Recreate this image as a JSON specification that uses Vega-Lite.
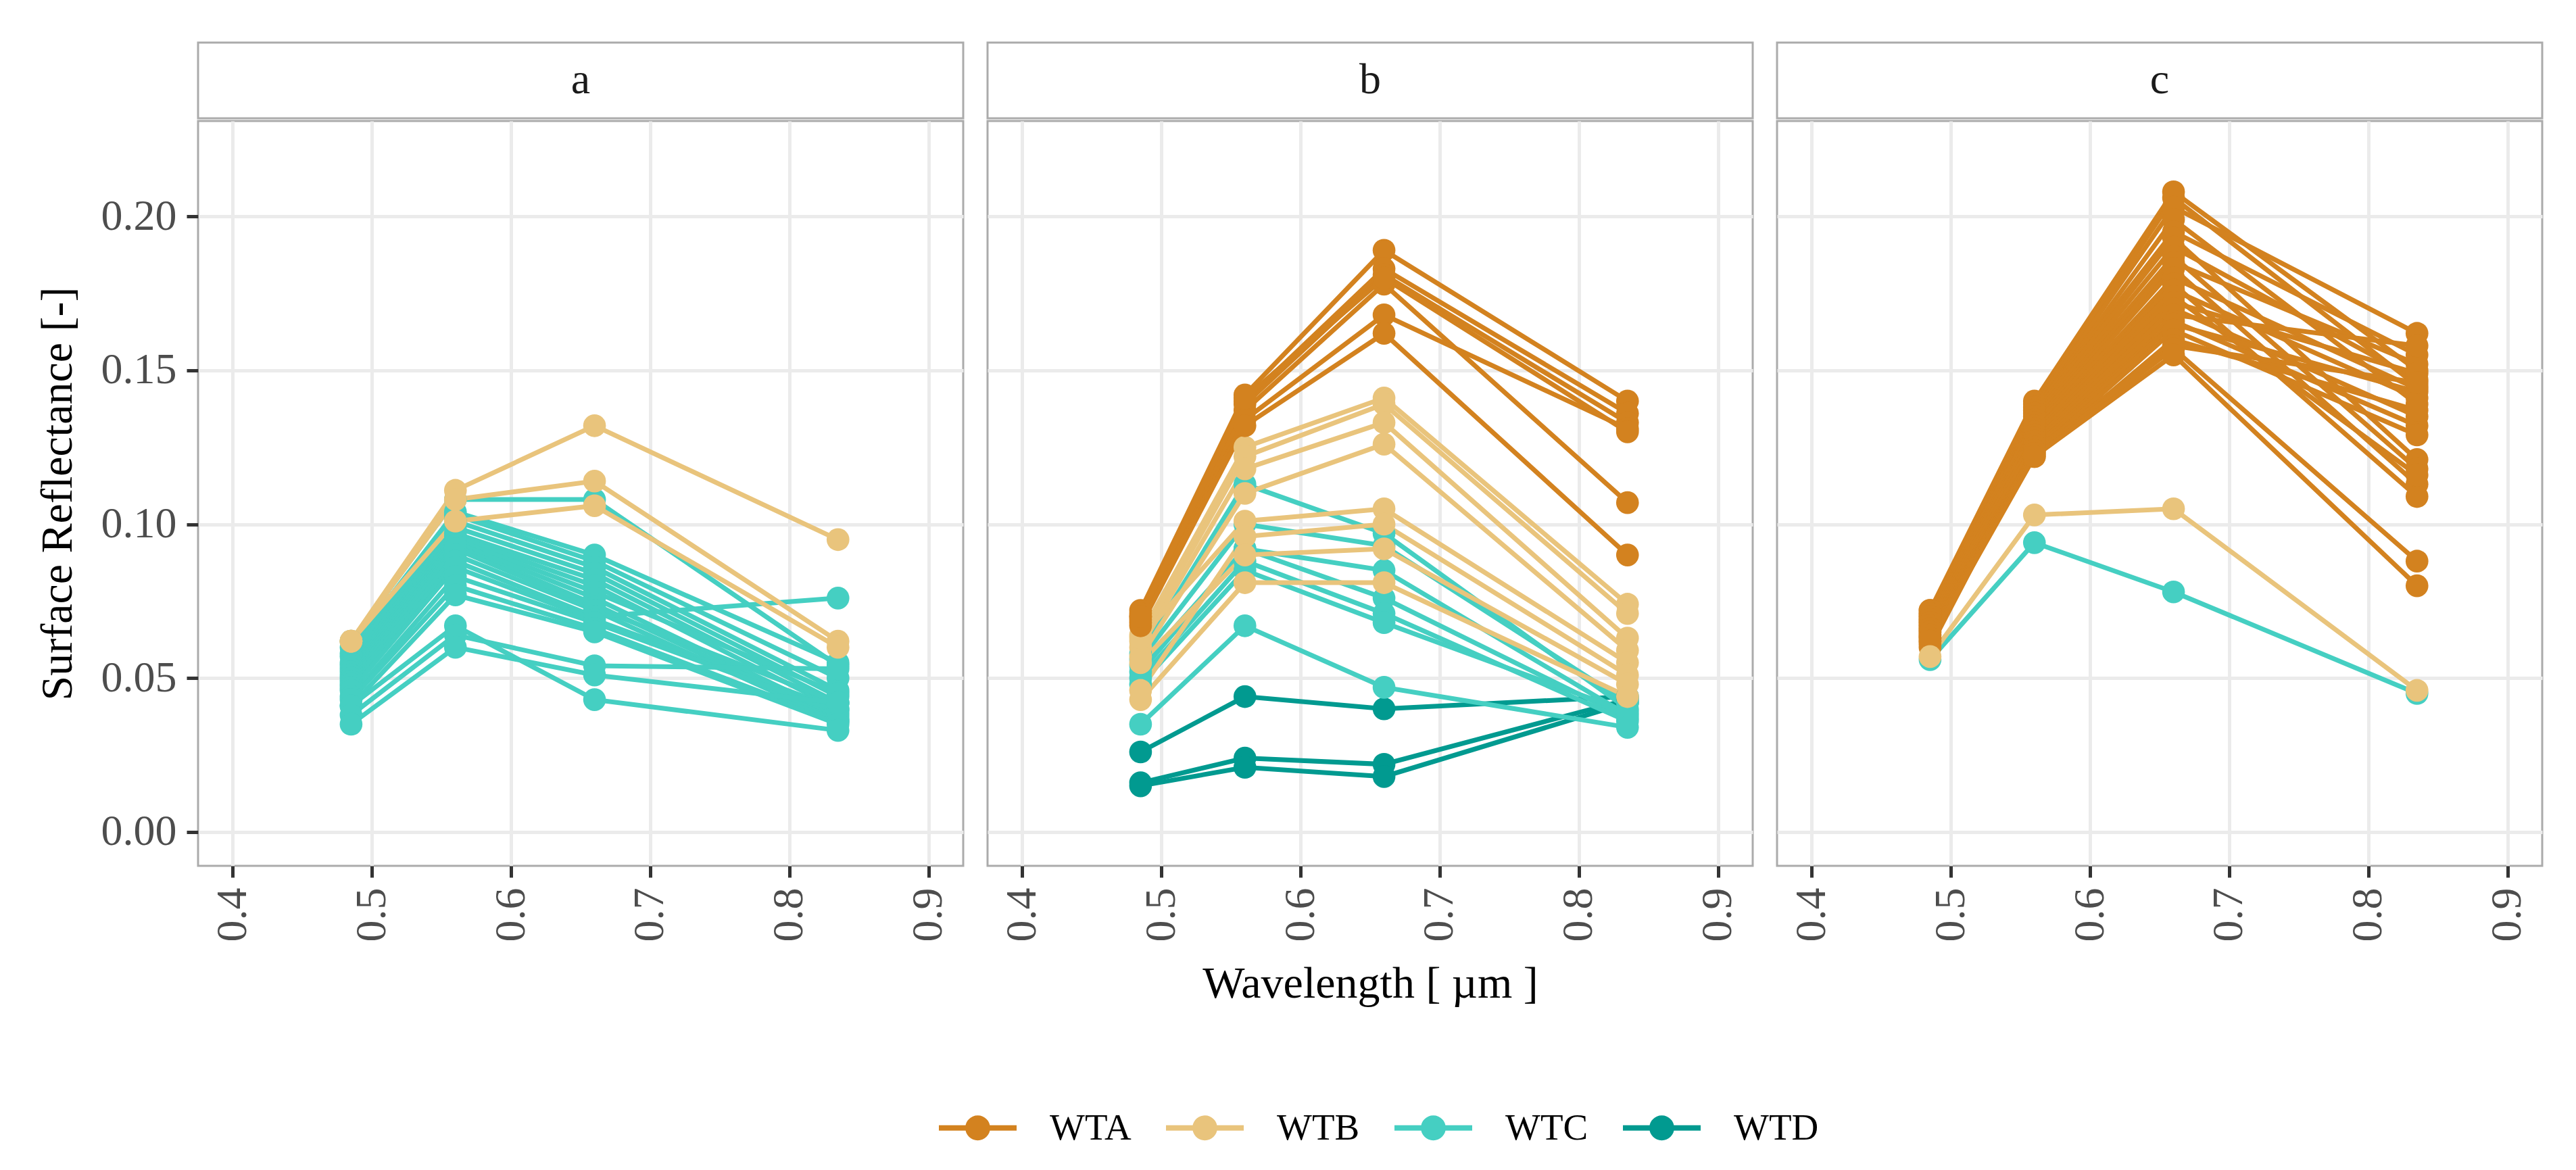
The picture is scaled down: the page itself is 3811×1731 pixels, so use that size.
{
  "$schema": "https://vega.github.io/schema/vega-lite/v6.json",
  "background": "white",
  "padding": {"left": 50, "top": 61, "right": 46, "bottom": 10},
  "datasets": {
    "strips": [{"panel": "a"}, {"panel": "b"}, {"panel": "c"}],
    "obs": [
      {"panel":"a","id":"a04","type":"WTC","wl":0.485,"refl":0.062},{"panel":"a","id":"a04","type":"WTC","wl":0.56,"refl":0.108},{"panel":"a","id":"a04","type":"WTC","wl":0.66,"refl":0.108},{"panel":"a","id":"a04","type":"WTC","wl":0.835,"refl":0.054},
      {"panel":"a","id":"a05","type":"WTC","wl":0.485,"refl":0.060},{"panel":"a","id":"a05","type":"WTC","wl":0.56,"refl":0.104},{"panel":"a","id":"a05","type":"WTC","wl":0.66,"refl":0.090},{"panel":"a","id":"a05","type":"WTC","wl":0.835,"refl":0.055},
      {"panel":"a","id":"a06","type":"WTC","wl":0.485,"refl":0.058},{"panel":"a","id":"a06","type":"WTC","wl":0.56,"refl":0.103},{"panel":"a","id":"a06","type":"WTC","wl":0.66,"refl":0.088},{"panel":"a","id":"a06","type":"WTC","wl":0.835,"refl":0.050},
      {"panel":"a","id":"a07","type":"WTC","wl":0.485,"refl":0.057},{"panel":"a","id":"a07","type":"WTC","wl":0.56,"refl":0.101},{"panel":"a","id":"a07","type":"WTC","wl":0.66,"refl":0.086},{"panel":"a","id":"a07","type":"WTC","wl":0.835,"refl":0.046},
      {"panel":"a","id":"a08","type":"WTC","wl":0.485,"refl":0.055},{"panel":"a","id":"a08","type":"WTC","wl":0.56,"refl":0.099},{"panel":"a","id":"a08","type":"WTC","wl":0.66,"refl":0.084},{"panel":"a","id":"a08","type":"WTC","wl":0.835,"refl":0.044},
      {"panel":"a","id":"a09","type":"WTC","wl":0.485,"refl":0.054},{"panel":"a","id":"a09","type":"WTC","wl":0.56,"refl":0.097},{"panel":"a","id":"a09","type":"WTC","wl":0.66,"refl":0.082},{"panel":"a","id":"a09","type":"WTC","wl":0.835,"refl":0.042},
      {"panel":"a","id":"a10","type":"WTC","wl":0.485,"refl":0.053},{"panel":"a","id":"a10","type":"WTC","wl":0.56,"refl":0.096},{"panel":"a","id":"a10","type":"WTC","wl":0.66,"refl":0.080},{"panel":"a","id":"a10","type":"WTC","wl":0.835,"refl":0.040},
      {"panel":"a","id":"a11","type":"WTC","wl":0.485,"refl":0.052},{"panel":"a","id":"a11","type":"WTC","wl":0.56,"refl":0.095},{"panel":"a","id":"a11","type":"WTC","wl":0.66,"refl":0.078},{"panel":"a","id":"a11","type":"WTC","wl":0.835,"refl":0.045},
      {"panel":"a","id":"a12","type":"WTC","wl":0.485,"refl":0.051},{"panel":"a","id":"a12","type":"WTC","wl":0.56,"refl":0.094},{"panel":"a","id":"a12","type":"WTC","wl":0.66,"refl":0.076},{"panel":"a","id":"a12","type":"WTC","wl":0.835,"refl":0.038},
      {"panel":"a","id":"a13","type":"WTC","wl":0.485,"refl":0.050},{"panel":"a","id":"a13","type":"WTC","wl":0.56,"refl":0.093},{"panel":"a","id":"a13","type":"WTC","wl":0.66,"refl":0.074},{"panel":"a","id":"a13","type":"WTC","wl":0.835,"refl":0.037},
      {"panel":"a","id":"a14","type":"WTC","wl":0.485,"refl":0.049},{"panel":"a","id":"a14","type":"WTC","wl":0.56,"refl":0.092},{"panel":"a","id":"a14","type":"WTC","wl":0.66,"refl":0.073},{"panel":"a","id":"a14","type":"WTC","wl":0.835,"refl":0.042},
      {"panel":"a","id":"a15","type":"WTC","wl":0.485,"refl":0.048},{"panel":"a","id":"a15","type":"WTC","wl":0.56,"refl":0.090},{"panel":"a","id":"a15","type":"WTC","wl":0.66,"refl":0.072},{"panel":"a","id":"a15","type":"WTC","wl":0.835,"refl":0.036},
      {"panel":"a","id":"a16","type":"WTC","wl":0.485,"refl":0.047},{"panel":"a","id":"a16","type":"WTC","wl":0.56,"refl":0.088},{"panel":"a","id":"a16","type":"WTC","wl":0.66,"refl":0.070},{"panel":"a","id":"a16","type":"WTC","wl":0.835,"refl":0.076},
      {"panel":"a","id":"a17","type":"WTC","wl":0.485,"refl":0.046},{"panel":"a","id":"a17","type":"WTC","wl":0.56,"refl":0.086},{"panel":"a","id":"a17","type":"WTC","wl":0.66,"refl":0.069},{"panel":"a","id":"a17","type":"WTC","wl":0.835,"refl":0.040},
      {"panel":"a","id":"a18","type":"WTC","wl":0.485,"refl":0.044},{"panel":"a","id":"a18","type":"WTC","wl":0.56,"refl":0.083},{"panel":"a","id":"a18","type":"WTC","wl":0.66,"refl":0.068},{"panel":"a","id":"a18","type":"WTC","wl":0.835,"refl":0.039},
      {"panel":"a","id":"a19","type":"WTC","wl":0.485,"refl":0.043},{"panel":"a","id":"a19","type":"WTC","wl":0.56,"refl":0.080},{"panel":"a","id":"a19","type":"WTC","wl":0.66,"refl":0.066},{"panel":"a","id":"a19","type":"WTC","wl":0.835,"refl":0.036},
      {"panel":"a","id":"a20","type":"WTC","wl":0.485,"refl":0.041},{"panel":"a","id":"a20","type":"WTC","wl":0.56,"refl":0.077},{"panel":"a","id":"a20","type":"WTC","wl":0.66,"refl":0.065},{"panel":"a","id":"a20","type":"WTC","wl":0.835,"refl":0.035},
      {"panel":"a","id":"a21","type":"WTC","wl":0.485,"refl":0.041},{"panel":"a","id":"a21","type":"WTC","wl":0.56,"refl":0.067},{"panel":"a","id":"a21","type":"WTC","wl":0.66,"refl":0.043},{"panel":"a","id":"a21","type":"WTC","wl":0.835,"refl":0.033},
      {"panel":"a","id":"a22","type":"WTC","wl":0.485,"refl":0.038},{"panel":"a","id":"a22","type":"WTC","wl":0.56,"refl":0.064},{"panel":"a","id":"a22","type":"WTC","wl":0.66,"refl":0.054},{"panel":"a","id":"a22","type":"WTC","wl":0.835,"refl":0.053},
      {"panel":"a","id":"a23","type":"WTC","wl":0.485,"refl":0.035},{"panel":"a","id":"a23","type":"WTC","wl":0.56,"refl":0.060},{"panel":"a","id":"a23","type":"WTC","wl":0.66,"refl":0.051},{"panel":"a","id":"a23","type":"WTC","wl":0.835,"refl":0.042},
      {"panel":"a","id":"a01","type":"WTB","wl":0.485,"refl":0.062},{"panel":"a","id":"a01","type":"WTB","wl":0.56,"refl":0.111},{"panel":"a","id":"a01","type":"WTB","wl":0.66,"refl":0.132},{"panel":"a","id":"a01","type":"WTB","wl":0.835,"refl":0.095},
      {"panel":"a","id":"a02","type":"WTB","wl":0.485,"refl":0.062},{"panel":"a","id":"a02","type":"WTB","wl":0.56,"refl":0.108},{"panel":"a","id":"a02","type":"WTB","wl":0.66,"refl":0.114},{"panel":"a","id":"a02","type":"WTB","wl":0.835,"refl":0.062},
      {"panel":"a","id":"a03","type":"WTB","wl":0.485,"refl":0.062},{"panel":"a","id":"a03","type":"WTB","wl":0.56,"refl":0.101},{"panel":"a","id":"a03","type":"WTB","wl":0.66,"refl":0.106},{"panel":"a","id":"a03","type":"WTB","wl":0.835,"refl":0.060},

      {"panel":"b","id":"b01","type":"WTD","wl":0.485,"refl":0.026},{"panel":"b","id":"b01","type":"WTD","wl":0.56,"refl":0.044},{"panel":"b","id":"b01","type":"WTD","wl":0.66,"refl":0.040},{"panel":"b","id":"b01","type":"WTD","wl":0.835,"refl":0.044},
      {"panel":"b","id":"b02","type":"WTD","wl":0.485,"refl":0.016},{"panel":"b","id":"b02","type":"WTD","wl":0.56,"refl":0.024},{"panel":"b","id":"b02","type":"WTD","wl":0.66,"refl":0.022},{"panel":"b","id":"b02","type":"WTD","wl":0.835,"refl":0.043},
      {"panel":"b","id":"b03","type":"WTD","wl":0.485,"refl":0.015},{"panel":"b","id":"b03","type":"WTD","wl":0.56,"refl":0.021},{"panel":"b","id":"b03","type":"WTD","wl":0.66,"refl":0.018},{"panel":"b","id":"b03","type":"WTD","wl":0.835,"refl":0.042},
      {"panel":"b","id":"b04","type":"WTC","wl":0.485,"refl":0.058},{"panel":"b","id":"b04","type":"WTC","wl":0.56,"refl":0.113},{"panel":"b","id":"b04","type":"WTC","wl":0.66,"refl":0.097},{"panel":"b","id":"b04","type":"WTC","wl":0.835,"refl":0.040},
      {"panel":"b","id":"b05","type":"WTC","wl":0.485,"refl":0.056},{"panel":"b","id":"b05","type":"WTC","wl":0.56,"refl":0.100},{"panel":"b","id":"b05","type":"WTC","wl":0.66,"refl":0.093},{"panel":"b","id":"b05","type":"WTC","wl":0.835,"refl":0.042},
      {"panel":"b","id":"b06","type":"WTC","wl":0.485,"refl":0.052},{"panel":"b","id":"b06","type":"WTC","wl":0.56,"refl":0.092},{"panel":"b","id":"b06","type":"WTC","wl":0.66,"refl":0.085},{"panel":"b","id":"b06","type":"WTC","wl":0.835,"refl":0.038},
      {"panel":"b","id":"b07","type":"WTC","wl":0.485,"refl":0.054},{"panel":"b","id":"b07","type":"WTC","wl":0.56,"refl":0.092},{"panel":"b","id":"b07","type":"WTC","wl":0.66,"refl":0.076},{"panel":"b","id":"b07","type":"WTC","wl":0.835,"refl":0.037},
      {"panel":"b","id":"b08","type":"WTC","wl":0.485,"refl":0.050},{"panel":"b","id":"b08","type":"WTC","wl":0.56,"refl":0.088},{"panel":"b","id":"b08","type":"WTC","wl":0.66,"refl":0.071},{"panel":"b","id":"b08","type":"WTC","wl":0.835,"refl":0.036},
      {"panel":"b","id":"b09","type":"WTC","wl":0.485,"refl":0.048},{"panel":"b","id":"b09","type":"WTC","wl":0.56,"refl":0.085},{"panel":"b","id":"b09","type":"WTC","wl":0.66,"refl":0.068},{"panel":"b","id":"b09","type":"WTC","wl":0.835,"refl":0.039},
      {"panel":"b","id":"b10","type":"WTC","wl":0.485,"refl":0.035},{"panel":"b","id":"b10","type":"WTC","wl":0.56,"refl":0.067},{"panel":"b","id":"b10","type":"WTC","wl":0.66,"refl":0.047},{"panel":"b","id":"b10","type":"WTC","wl":0.835,"refl":0.034},
      {"panel":"b","id":"b11","type":"WTB","wl":0.485,"refl":0.064},{"panel":"b","id":"b11","type":"WTB","wl":0.56,"refl":0.125},{"panel":"b","id":"b11","type":"WTB","wl":0.66,"refl":0.141},{"panel":"b","id":"b11","type":"WTB","wl":0.835,"refl":0.074},
      {"panel":"b","id":"b12","type":"WTB","wl":0.485,"refl":0.062},{"panel":"b","id":"b12","type":"WTB","wl":0.56,"refl":0.122},{"panel":"b","id":"b12","type":"WTB","wl":0.66,"refl":0.139},{"panel":"b","id":"b12","type":"WTB","wl":0.835,"refl":0.071},
      {"panel":"b","id":"b13","type":"WTB","wl":0.485,"refl":0.060},{"panel":"b","id":"b13","type":"WTB","wl":0.56,"refl":0.118},{"panel":"b","id":"b13","type":"WTB","wl":0.66,"refl":0.133},{"panel":"b","id":"b13","type":"WTB","wl":0.835,"refl":0.063},
      {"panel":"b","id":"b14","type":"WTB","wl":0.485,"refl":0.057},{"panel":"b","id":"b14","type":"WTB","wl":0.56,"refl":0.110},{"panel":"b","id":"b14","type":"WTB","wl":0.66,"refl":0.126},{"panel":"b","id":"b14","type":"WTB","wl":0.835,"refl":0.059},
      {"panel":"b","id":"b15","type":"WTB","wl":0.485,"refl":0.063},{"panel":"b","id":"b15","type":"WTB","wl":0.56,"refl":0.101},{"panel":"b","id":"b15","type":"WTB","wl":0.66,"refl":0.105},{"panel":"b","id":"b15","type":"WTB","wl":0.835,"refl":0.055},
      {"panel":"b","id":"b16","type":"WTB","wl":0.485,"refl":0.046},{"panel":"b","id":"b16","type":"WTB","wl":0.56,"refl":0.096},{"panel":"b","id":"b16","type":"WTB","wl":0.66,"refl":0.100},{"panel":"b","id":"b16","type":"WTB","wl":0.835,"refl":0.051},
      {"panel":"b","id":"b17","type":"WTB","wl":0.485,"refl":0.055},{"panel":"b","id":"b17","type":"WTB","wl":0.56,"refl":0.090},{"panel":"b","id":"b17","type":"WTB","wl":0.66,"refl":0.092},{"panel":"b","id":"b17","type":"WTB","wl":0.835,"refl":0.048},
      {"panel":"b","id":"b18","type":"WTB","wl":0.485,"refl":0.043},{"panel":"b","id":"b18","type":"WTB","wl":0.56,"refl":0.081},{"panel":"b","id":"b18","type":"WTB","wl":0.66,"refl":0.081},{"panel":"b","id":"b18","type":"WTB","wl":0.835,"refl":0.044},
      {"panel":"b","id":"b19","type":"WTA","wl":0.485,"refl":0.072},{"panel":"b","id":"b19","type":"WTA","wl":0.56,"refl":0.142},{"panel":"b","id":"b19","type":"WTA","wl":0.66,"refl":0.189},{"panel":"b","id":"b19","type":"WTA","wl":0.835,"refl":0.140},
      {"panel":"b","id":"b20","type":"WTA","wl":0.485,"refl":0.071},{"panel":"b","id":"b20","type":"WTA","wl":0.56,"refl":0.140},{"panel":"b","id":"b20","type":"WTA","wl":0.66,"refl":0.183},{"panel":"b","id":"b20","type":"WTA","wl":0.835,"refl":0.136},
      {"panel":"b","id":"b21","type":"WTA","wl":0.485,"refl":0.070},{"panel":"b","id":"b21","type":"WTA","wl":0.56,"refl":0.139},{"panel":"b","id":"b21","type":"WTA","wl":0.66,"refl":0.181},{"panel":"b","id":"b21","type":"WTA","wl":0.835,"refl":0.133},
      {"panel":"b","id":"b22","type":"WTA","wl":0.485,"refl":0.069},{"panel":"b","id":"b22","type":"WTA","wl":0.56,"refl":0.137},{"panel":"b","id":"b22","type":"WTA","wl":0.66,"refl":0.178},{"panel":"b","id":"b22","type":"WTA","wl":0.835,"refl":0.107},
      {"panel":"b","id":"b23","type":"WTA","wl":0.485,"refl":0.068},{"panel":"b","id":"b23","type":"WTA","wl":0.56,"refl":0.134},{"panel":"b","id":"b23","type":"WTA","wl":0.66,"refl":0.168},{"panel":"b","id":"b23","type":"WTA","wl":0.835,"refl":0.131},
      {"panel":"b","id":"b24","type":"WTA","wl":0.485,"refl":0.067},{"panel":"b","id":"b24","type":"WTA","wl":0.56,"refl":0.132},{"panel":"b","id":"b24","type":"WTA","wl":0.66,"refl":0.162},{"panel":"b","id":"b24","type":"WTA","wl":0.835,"refl":0.090},
      {"panel":"b","id":"b25","type":"WTA","wl":0.485,"refl":0.070},{"panel":"b","id":"b25","type":"WTA","wl":0.56,"refl":0.141},{"panel":"b","id":"b25","type":"WTA","wl":0.66,"refl":0.180},{"panel":"b","id":"b25","type":"WTA","wl":0.835,"refl":0.130},

      {"panel":"c","id":"c01","type":"WTA","wl":0.485,"refl":0.072},{"panel":"c","id":"c01","type":"WTA","wl":0.56,"refl":0.140},{"panel":"c","id":"c01","type":"WTA","wl":0.66,"refl":0.208},{"panel":"c","id":"c01","type":"WTA","wl":0.835,"refl":0.150},
      {"panel":"c","id":"c02","type":"WTA","wl":0.485,"refl":0.071},{"panel":"c","id":"c02","type":"WTA","wl":0.56,"refl":0.139},{"panel":"c","id":"c02","type":"WTA","wl":0.66,"refl":0.206},{"panel":"c","id":"c02","type":"WTA","wl":0.835,"refl":0.145},
      {"panel":"c","id":"c03","type":"WTA","wl":0.485,"refl":0.070},{"panel":"c","id":"c03","type":"WTA","wl":0.56,"refl":0.138},{"panel":"c","id":"c03","type":"WTA","wl":0.66,"refl":0.203},{"panel":"c","id":"c03","type":"WTA","wl":0.835,"refl":0.162},
      {"panel":"c","id":"c04","type":"WTA","wl":0.485,"refl":0.069},{"panel":"c","id":"c04","type":"WTA","wl":0.56,"refl":0.137},{"panel":"c","id":"c04","type":"WTA","wl":0.66,"refl":0.199},{"panel":"c","id":"c04","type":"WTA","wl":0.835,"refl":0.139},
      {"panel":"c","id":"c05","type":"WTA","wl":0.485,"refl":0.068},{"panel":"c","id":"c05","type":"WTA","wl":0.56,"refl":0.137},{"panel":"c","id":"c05","type":"WTA","wl":0.66,"refl":0.195},{"panel":"c","id":"c05","type":"WTA","wl":0.835,"refl":0.155},
      {"panel":"c","id":"c06","type":"WTA","wl":0.485,"refl":0.067},{"panel":"c","id":"c06","type":"WTA","wl":0.56,"refl":0.136},{"panel":"c","id":"c06","type":"WTA","wl":0.66,"refl":0.193},{"panel":"c","id":"c06","type":"WTA","wl":0.835,"refl":0.121},
      {"panel":"c","id":"c07","type":"WTA","wl":0.485,"refl":0.066},{"panel":"c","id":"c07","type":"WTA","wl":0.56,"refl":0.135},{"panel":"c","id":"c07","type":"WTA","wl":0.66,"refl":0.190},{"panel":"c","id":"c07","type":"WTA","wl":0.835,"refl":0.147},
      {"panel":"c","id":"c08","type":"WTA","wl":0.485,"refl":0.065},{"panel":"c","id":"c08","type":"WTA","wl":0.56,"refl":0.134},{"panel":"c","id":"c08","type":"WTA","wl":0.66,"refl":0.187},{"panel":"c","id":"c08","type":"WTA","wl":0.835,"refl":0.118},
      {"panel":"c","id":"c09","type":"WTA","wl":0.485,"refl":0.072},{"panel":"c","id":"c09","type":"WTA","wl":0.56,"refl":0.133},{"panel":"c","id":"c09","type":"WTA","wl":0.66,"refl":0.185},{"panel":"c","id":"c09","type":"WTA","wl":0.835,"refl":0.152},
      {"panel":"c","id":"c10","type":"WTA","wl":0.485,"refl":0.064},{"panel":"c","id":"c10","type":"WTA","wl":0.56,"refl":0.132},{"panel":"c","id":"c10","type":"WTA","wl":0.66,"refl":0.183},{"panel":"c","id":"c10","type":"WTA","wl":0.835,"refl":0.113},
      {"panel":"c","id":"c11","type":"WTA","wl":0.485,"refl":0.071},{"panel":"c","id":"c11","type":"WTA","wl":0.56,"refl":0.131},{"panel":"c","id":"c11","type":"WTA","wl":0.66,"refl":0.180},{"panel":"c","id":"c11","type":"WTA","wl":0.835,"refl":0.144},
      {"panel":"c","id":"c12","type":"WTA","wl":0.485,"refl":0.063},{"panel":"c","id":"c12","type":"WTA","wl":0.56,"refl":0.130},{"panel":"c","id":"c12","type":"WTA","wl":0.66,"refl":0.178},{"panel":"c","id":"c12","type":"WTA","wl":0.835,"refl":0.109},
      {"panel":"c","id":"c13","type":"WTA","wl":0.485,"refl":0.070},{"panel":"c","id":"c13","type":"WTA","wl":0.56,"refl":0.130},{"panel":"c","id":"c13","type":"WTA","wl":0.66,"refl":0.176},{"panel":"c","id":"c13","type":"WTA","wl":0.835,"refl":0.141},
      {"panel":"c","id":"c14","type":"WTA","wl":0.485,"refl":0.062},{"panel":"c","id":"c14","type":"WTA","wl":0.56,"refl":0.129},{"panel":"c","id":"c14","type":"WTA","wl":0.66,"refl":0.174},{"panel":"c","id":"c14","type":"WTA","wl":0.835,"refl":0.116},
      {"panel":"c","id":"c15","type":"WTA","wl":0.485,"refl":0.069},{"panel":"c","id":"c15","type":"WTA","wl":0.56,"refl":0.128},{"panel":"c","id":"c15","type":"WTA","wl":0.66,"refl":0.172},{"panel":"c","id":"c15","type":"WTA","wl":0.835,"refl":0.149},
      {"panel":"c","id":"c16","type":"WTA","wl":0.485,"refl":0.061},{"panel":"c","id":"c16","type":"WTA","wl":0.56,"refl":0.127},{"panel":"c","id":"c16","type":"WTA","wl":0.66,"refl":0.170},{"panel":"c","id":"c16","type":"WTA","wl":0.835,"refl":0.135},
      {"panel":"c","id":"c17","type":"WTA","wl":0.485,"refl":0.068},{"panel":"c","id":"c17","type":"WTA","wl":0.56,"refl":0.126},{"panel":"c","id":"c17","type":"WTA","wl":0.66,"refl":0.168},{"panel":"c","id":"c17","type":"WTA","wl":0.835,"refl":0.158},
      {"panel":"c","id":"c18","type":"WTA","wl":0.485,"refl":0.060},{"panel":"c","id":"c18","type":"WTA","wl":0.56,"refl":0.125},{"panel":"c","id":"c18","type":"WTA","wl":0.66,"refl":0.166},{"panel":"c","id":"c18","type":"WTA","wl":0.835,"refl":0.132},
      {"panel":"c","id":"c19","type":"WTA","wl":0.485,"refl":0.067},{"panel":"c","id":"c19","type":"WTA","wl":0.56,"refl":0.124},{"panel":"c","id":"c19","type":"WTA","wl":0.66,"refl":0.165},{"panel":"c","id":"c19","type":"WTA","wl":0.835,"refl":0.143},
      {"panel":"c","id":"c20","type":"WTA","wl":0.485,"refl":0.066},{"panel":"c","id":"c20","type":"WTA","wl":0.56,"refl":0.123},{"panel":"c","id":"c20","type":"WTA","wl":0.66,"refl":0.163},{"panel":"c","id":"c20","type":"WTA","wl":0.835,"refl":0.129},
      {"panel":"c","id":"c21","type":"WTA","wl":0.485,"refl":0.065},{"panel":"c","id":"c21","type":"WTA","wl":0.56,"refl":0.122},{"panel":"c","id":"c21","type":"WTA","wl":0.66,"refl":0.160},{"panel":"c","id":"c21","type":"WTA","wl":0.835,"refl":0.137},
      {"panel":"c","id":"c22","type":"WTA","wl":0.485,"refl":0.064},{"panel":"c","id":"c22","type":"WTA","wl":0.56,"refl":0.124},{"panel":"c","id":"c22","type":"WTA","wl":0.66,"refl":0.158},{"panel":"c","id":"c22","type":"WTA","wl":0.835,"refl":0.146},
      {"panel":"c","id":"c23","type":"WTA","wl":0.485,"refl":0.063},{"panel":"c","id":"c23","type":"WTA","wl":0.56,"refl":0.123},{"panel":"c","id":"c23","type":"WTA","wl":0.66,"refl":0.157},{"panel":"c","id":"c23","type":"WTA","wl":0.835,"refl":0.088},
      {"panel":"c","id":"c24","type":"WTA","wl":0.485,"refl":0.062},{"panel":"c","id":"c24","type":"WTA","wl":0.56,"refl":0.122},{"panel":"c","id":"c24","type":"WTA","wl":0.66,"refl":0.155},{"panel":"c","id":"c24","type":"WTA","wl":0.835,"refl":0.080},
      {"panel":"c","id":"c25","type":"WTC","wl":0.485,"refl":0.056},{"panel":"c","id":"c25","type":"WTC","wl":0.56,"refl":0.094},{"panel":"c","id":"c25","type":"WTC","wl":0.66,"refl":0.078},{"panel":"c","id":"c25","type":"WTC","wl":0.835,"refl":0.045},
      {"panel":"c","id":"c26","type":"WTB","wl":0.485,"refl":0.057},{"panel":"c","id":"c26","type":"WTB","wl":0.56,"refl":0.103},{"panel":"c","id":"c26","type":"WTB","wl":0.66,"refl":0.105},{"panel":"c","id":"c26","type":"WTB","wl":0.835,"refl":0.046}
    ]
  },
  "columns": 3,
  "bounds": "flush",
  "spacing": {"row": 4, "column": 36},
  "concat": [
    {
      "width": 1132, "height": 112,
      "view": {"stroke": "#ababab", "strokeWidth": 3, "fill": "white"},
      "data": {"name": "strips"},
      "transform": [{"filter": "datum.panel === 'a'"}],
      "mark": {"type": "text", "fontSize": 64, "font": "Liberation Serif", "color": "#1a1a1a", "baseline": "middle"},
      "encoding": {
        "x": {"field": "panel", "type": "nominal", "axis": null},
        "y": {"field": "panel", "type": "nominal", "axis": null},
        "text": {"field": "panel"}
      }
    },
    {
      "width": 1132, "height": 112,
      "view": {"stroke": "#ababab", "strokeWidth": 3, "fill": "white"},
      "data": {"name": "strips"},
      "transform": [{"filter": "datum.panel === 'b'"}],
      "mark": {"type": "text", "fontSize": 64, "font": "Liberation Serif", "color": "#1a1a1a", "baseline": "middle"},
      "encoding": {
        "x": {"field": "panel", "type": "nominal", "axis": null},
        "y": {"field": "panel", "type": "nominal", "axis": null},
        "text": {"field": "panel"}
      }
    },
    {
      "width": 1132, "height": 112,
      "view": {"stroke": "#ababab", "strokeWidth": 3, "fill": "white"},
      "data": {"name": "strips"},
      "transform": [{"filter": "datum.panel === 'c'"}],
      "mark": {"type": "text", "fontSize": 64, "font": "Liberation Serif", "color": "#1a1a1a", "baseline": "middle"},
      "encoding": {
        "x": {"field": "panel", "type": "nominal", "axis": null},
        "y": {"field": "panel", "type": "nominal", "axis": null},
        "text": {"field": "panel"}
      }
    },
    {
      "width": 1132, "height": 1102,
      "data": {"name": "obs"},
      "transform": [{"filter": "datum.panel === 'a'"}],
      "encoding": {
        "x": {"field": "wl", "type": "quantitative", "scale": {"domain": [0.375, 0.925], "nice": false, "zero": false}, "axis": {"values": [0.4, 0.5, 0.6, 0.7, 0.8, 0.9], "format": ".1f", "title": null}},
        "y": {"field": "refl", "type": "quantitative", "scale": {"domain": [-0.011, 0.231], "nice": false, "zero": false}, "axis": {"values": [0, 0.05, 0.1, 0.15, 0.2], "format": ".2f", "title": "Surface Reflectance [-]"}},
        "color": {"field": "type", "type": "nominal", "scale": {"domain": ["WTA", "WTB", "WTC", "WTD"], "range": ["#D3821F", "#E9C47C", "#45CFC2", "#019A90"]}}
      },
      "layer": [
        {"mark": {"type": "line", "strokeWidth": 7}, "encoding": {"detail": {"field": "id"}}},
        {"mark": {"type": "circle", "size": 1134, "opacity": 1}}
      ]
    },
    {
      "width": 1132, "height": 1102,
      "data": {"name": "obs"},
      "transform": [{"filter": "datum.panel === 'b'"}],
      "encoding": {
        "x": {"field": "wl", "type": "quantitative", "scale": {"domain": [0.375, 0.925], "nice": false, "zero": false}, "axis": {"values": [0.4, 0.5, 0.6, 0.7, 0.8, 0.9], "format": ".1f", "title": "Wavelength [ µm ]"}},
        "y": {"field": "refl", "type": "quantitative", "scale": {"domain": [-0.011, 0.231], "nice": false, "zero": false}, "axis": {"values": [0, 0.05, 0.1, 0.15, 0.2], "labels": false, "ticks": false, "title": null}},
        "color": {"field": "type", "type": "nominal", "scale": {"domain": ["WTA", "WTB", "WTC", "WTD"], "range": ["#D3821F", "#E9C47C", "#45CFC2", "#019A90"]}}
      },
      "layer": [
        {"mark": {"type": "line", "strokeWidth": 7}, "encoding": {"detail": {"field": "id"}}},
        {"mark": {"type": "circle", "size": 1134, "opacity": 1}}
      ]
    },
    {
      "width": 1132, "height": 1102,
      "data": {"name": "obs"},
      "transform": [{"filter": "datum.panel === 'c'"}],
      "encoding": {
        "x": {"field": "wl", "type": "quantitative", "scale": {"domain": [0.375, 0.925], "nice": false, "zero": false}, "axis": {"values": [0.4, 0.5, 0.6, 0.7, 0.8, 0.9], "format": ".1f", "title": null}},
        "y": {"field": "refl", "type": "quantitative", "scale": {"domain": [-0.011, 0.231], "nice": false, "zero": false}, "axis": {"values": [0, 0.05, 0.1, 0.15, 0.2], "labels": false, "ticks": false, "title": null}},
        "color": {"field": "type", "type": "nominal", "scale": {"domain": ["WTA", "WTB", "WTC", "WTD"], "range": ["#D3821F", "#E9C47C", "#45CFC2", "#019A90"]}}
      },
      "layer": [
        {"mark": {"type": "line", "strokeWidth": 7}, "encoding": {"detail": {"field": "id"}}},
        {"mark": {"type": "circle", "size": 1134, "opacity": 1}}
      ]
    }
  ],
  "resolve": {"scale": {"x": "independent", "y": "independent"}},
  "config": {
    "font": "Liberation Serif",
    "view": {"stroke": "#ababab", "strokeWidth": 3},
    "axis": {
      "labelFont": "Liberation Serif", "titleFont": "Liberation Serif",
      "labelFontSize": 64, "labelColor": "#4d4d4d",
      "titleFontSize": 66, "titleFontWeight": "normal", "titleColor": "#000000",
      "tickColor": "#333333", "tickWidth": 5, "tickSize": 17, "labelPadding": 15,
      "gridColor": "#ebebeb", "gridWidth": 5, "domain": false
    },
    "axisX": {"labelAngle": 270, "titlePadding": 30},
    "axisY": {"titlePadding": 30},
    "legend": {
      "title": null, "orient": "none", "direction": "horizontal",
      "legendX": 1096, "legendY": 1548,
      "symbolType": "M-1,-0.07H1V0.07H-1Z M-0.32,0A0.32,0.32 0 1,1 0.32,0A0.32,0.32 0 1,1 -0.32,0Z",
      "symbolSize": 13225, "symbolStrokeWidth": 0, "symbolOpacity": 1,
      "labelFont": "Liberation Serif", "labelFontSize": 55, "labelColor": "#000000",
      "labelOffset": 49, "columnPadding": 51
    }
  }
}
